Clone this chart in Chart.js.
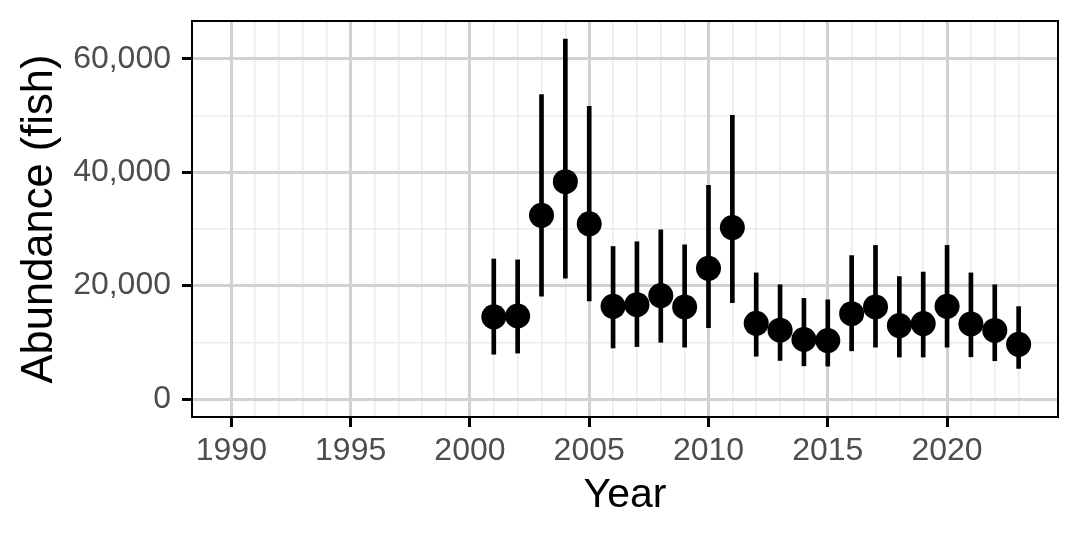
<!DOCTYPE html>
<html>
<head>
<meta charset="utf-8">
<script src="https://cdn.jsdelivr.net/npm/chart.js@4/dist/chart.umd.min.js"></script>
<style>
  body { margin: 0; background: #fff; }
  canvas { display: block; }
</style>
</head>
<body>
<canvas id="abundanceChart" width="1080" height="540"></canvas>
<script>
// Estimated abundance by year with lower / upper interval
const years = [2001, 2002, 2003, 2004, 2005, 2006, 2007, 2008, 2009, 2010, 2011, 2012,
               2013, 2014, 2015, 2016, 2017, 2018, 2019, 2020, 2021, 2022, 2023];
const abundance = [14500, 14650, 32400, 38350, 30900, 16350, 16650, 18250, 16250, 23050, 30250, 13350,
                   12150, 10500, 10300, 15050, 16250, 12950, 13300, 16350, 13250, 12100, 9650];
const lower = [7900, 8100, 18150, 21300, 17300, 9000, 9250, 10000, 9150, 12600, 17000, 7550,
               6800, 5850, 5800, 8500, 9150, 7400, 7400, 9150, 7450, 6750, 5400];
const upper = [24700, 24550, 53700, 63500, 51650, 26900, 27750, 29850, 27200, 37700, 50050, 22250,
               20150, 17750, 17500, 25300, 27100, 21600, 22400, 27100, 22250, 20150, 16300];

const xTicks = [1990, 1995, 2000, 2005, 2010, 2015, 2020];
const xMinorTicks = [];
for (let y = 1990; y <= 2023; y++) xMinorTicks.push(y);
const yTicks = [0, 20000, 40000, 60000];
const yMinorTicks = [10000, 30000, 50000];

const FONT = "'Liberation Sans', Arial, Helvetica, sans-serif";
const MAJOR_GRID = '#D1D1D1';
const MINOR_GRID = '#EBEBEB';

// ggplot-style black frame around the panel
const panelBorder = {
    id: 'panelBorder',
    afterDatasetsDraw(chart) {
        const {ctx, chartArea: a} = chart;
        ctx.save();
        ctx.strokeStyle = '#000';
        ctx.lineWidth = 2;
        ctx.strokeRect(a.left, a.top, a.right - a.left, a.bottom - a.top);
        ctx.restore();
    }
};

function fitX(h) {
    return s => { s.height = h; s.paddingLeft = 0; s.paddingRight = 0; };
}
function fitY(w) {
    return s => { s.width = w; s.paddingTop = 0; s.paddingBottom = 0; };
}

new Chart(document.getElementById('abundanceChart'), {
    type: 'bar',
    data: {
        datasets: [
            {
                type: 'scatter',
                label: 'Abundance',
                data: years.map((yr, i) => ({x: yr, y: abundance[i]})),
                backgroundColor: '#000',
                borderWidth: 0,
                pointRadius: 12.5
            },
            {
                type: 'bar',
                label: 'Interval',
                data: years.map((yr, i) => ({x: yr, y: [lower[i], upper[i]]})),
                backgroundColor: '#000',
                borderWidth: 0,
                barThickness: 4
            }
        ]
    },
    options: {
        responsive: false,
        animation: false,
        devicePixelRatio: 1,
        layout: { padding: { top: 21, right: 22, left: 0, bottom: 0 } },
        plugins: { legend: { display: false }, tooltip: { enabled: false } },
        scales: {
            x: {
                type: 'linear',
                position: 'bottom',
                min: 1988.35,
                max: 2024.65,
                offset: false,
                afterBuildTicks: s => { s.ticks = xTicks.map(v => ({value: v})); },
                afterFit: fitX(123),
                grid: { offset: false, color: MAJOR_GRID, lineWidth: 3, tickColor: '#000', tickWidth: 3, tickLength: 10 },
                border: { display: false },
                ticks: { color: '#4D4D4D', font: { family: FONT, size: 32 }, padding: 5, callback: v => String(v) },
                title: { display: true, text: 'Year', color: '#000', font: { family: FONT, size: 41 }, padding: { bottom: 20 } }
            },
            xm: {
                type: 'linear',
                axis: 'x',
                position: 'bottom',
                min: 1988.35,
                max: 2024.65,
                offset: false,
                afterBuildTicks: s => { s.ticks = xMinorTicks.map(v => ({value: v})); },
                afterFit: fitX(0),
                grid: { offset: false, color: MINOR_GRID, lineWidth: 1.5, drawTicks: false, z: -2 },
                border: { display: false },
                ticks: { display: false }
            },
            y: {
                type: 'linear',
                position: 'left',
                min: -3175,
                max: 66690,
                afterBuildTicks: s => { s.ticks = yTicks.map(v => ({value: v})); },
                afterFit: fitY(192),
                grid: { color: MAJOR_GRID, lineWidth: 3, tickColor: '#000', tickWidth: 3, tickLength: 10 },
                border: { display: false },
                ticks: { color: '#4D4D4D', font: { family: FONT, size: 32 }, padding: 11,
                         callback: v => v.toLocaleString('en-US') },
                title: { display: true, text: 'Abundance (fish)', color: '#000', font: { family: FONT, size: 43.5 }, padding: { top: 14 } }
            },
            ym: {
                type: 'linear',
                axis: 'y',
                position: 'left',
                min: -3175,
                max: 66690,
                afterBuildTicks: s => { s.ticks = yMinorTicks.map(v => ({value: v})); },
                afterFit: fitY(0),
                grid: { color: MINOR_GRID, lineWidth: 1.5, drawTicks: false, z: -2 },
                border: { display: false },
                ticks: { display: false }
            }
        }
    },
    plugins: [panelBorder]
});
</script>
</body>
</html>
